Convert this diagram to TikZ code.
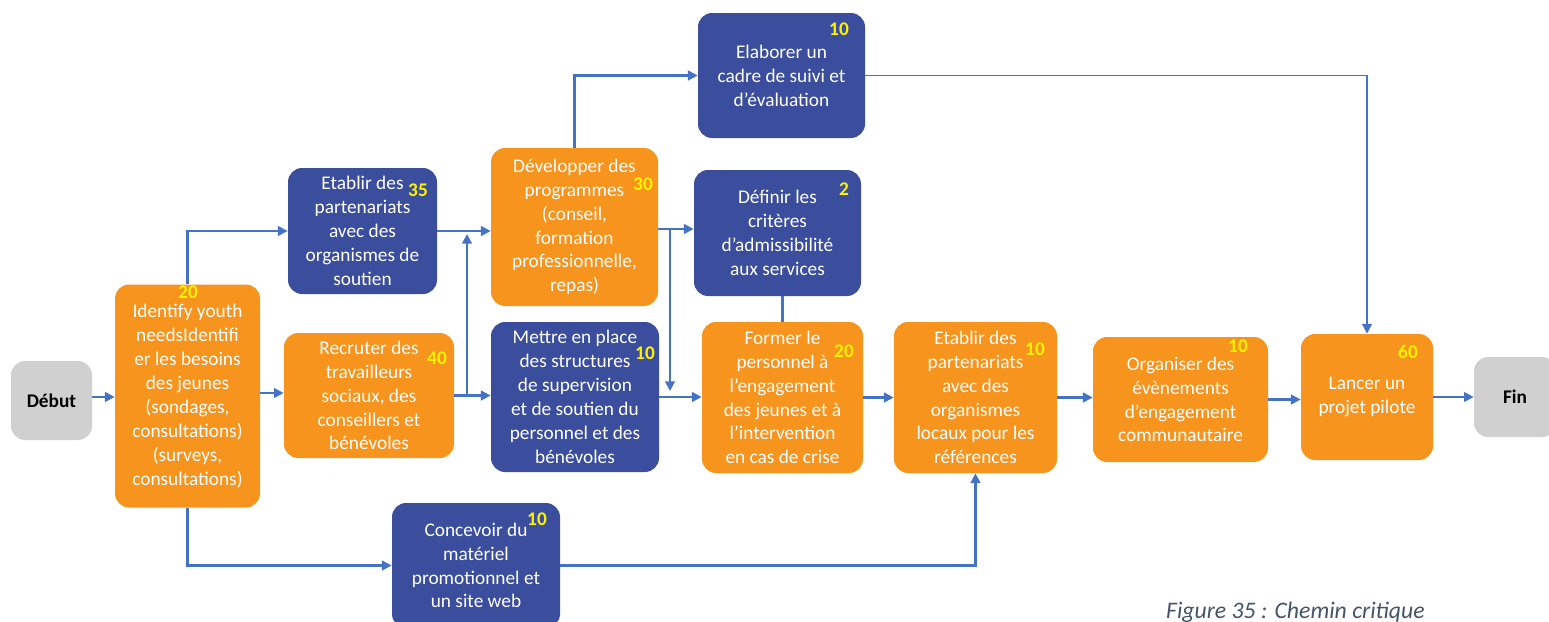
\documentclass[tikz,border=0pt]{standalone}
\usepackage{fontspec}
\setmainfont{Carlito}
\usepackage{tikz}
\usetikzlibrary{positioning,calc}
\usetikzlibrary{arrows.meta}
\definecolor{TaskOrange}{RGB}{247,148,30}
\definecolor{TaskBlue}{RGB}{59,77,157}
\definecolor{EndGray}{RGB}{208,208,208}
\definecolor{FlowBlue}{RGB}{68,114,196}
\definecolor{CapGray}{RGB}{68,84,106}
\tikzset{
	task/.style={rounded corners=8pt,inner sep=0pt,align=center,text=white,
		font=\fontsize{11}{13.6}\selectfont},
	crit/.style={task,fill=TaskOrange},
	side/.style={task,fill=TaskBlue},
	term/.style={task,fill=EndGray,text=black,font=\fontsize{11}{13.6}\selectfont\bfseries},
	sz/.style 2 args={minimum width=#1*0.02cm,minimum height=#2*0.02cm},
	dur/.style={inner sep=0pt,text=yellow,font=\fontsize{11}{13}\selectfont\bfseries},
	flow/.style={draw=FlowBlue,line width=1.2pt,-{Triangle[length=5.5pt,width=5.5pt]}},
}
\begin{document}
\begin{tikzpicture}[x=0.02cm,y=-0.02cm]
	\useasboundingbox (0,0) rectangle (1549,622);
	\node[term,sz={81}{79}] (debut) at (51.5,400.5) {Début};
	\node[crit,sz={145}{223}] (ident) at (187.5,396) {Identify youth\\needsIdentifi\\er les besoins\\des jeunes\\(sondages,\\consultations)\\(surveys,\\consultations)};
	\node[side,sz={149}{126}] (partsout) at (362.5,231) {Etablir des\\partenariats\\avec des\\organismes de\\soutien};
	\node[crit,sz={170}{125}] (recrut) at (369,395.5) {Recruter des\\travailleurs\\sociaux, des\\conseillers et\\bénévoles};
	\node[crit,sz={167}{158}] (devprog) at (574.5,227) {Développer des\\programmes\\(conseil,\\formation\\professionnelle,\\repas)};
	\node[side,sz={167}{125}] (cadre) at (781.5,75.5) {Elaborer un\\cadre de suivi et\\d’évaluation};
	\node[side,sz={167}{126}] (criteres) at (777.5,233) {Définir les\\critères\\d’admissibilité\\aux services};
	\node[side,sz={168}{150}] (supervis) at (575,397) {Mettre en place\\des structures\\de supervision\\et de soutien du\\personnel et des\\bénévoles};
	\node[crit,sz={161}{151}] (former) at (782.5,397.5) {Former le\\personnel à\\l’engagement\\des jeunes et à\\l’intervention\\en cas de crise};
	\node[crit,sz={163}{151}] (partloc) at (975.5,397.5) {Etablir des\\partenariats\\avec des\\organismes\\locaux pour les\\références};
	\node[crit,sz={175}{125}] (evenem) at (1180.5,399.5) {Organiser des\\évènements\\d’engagement\\communautaire};
	\node[crit,sz={132}{126}] (pilote) at (1367,397) {Lancer un\\projet pilote};
	\node[term,sz={82}{80}] (fin) at (1515,397) {Fin};
	\node[side,sz={168}{125}] (concev) at (476,565.5) {Concevoir du\\matériel\\promotionnel et\\un site web};
	\foreach \n/\p/\t in {ident/{188,292}/20,partsout/{418,190}/35,recrut/{437,358}/40,
		devprog/{643,184}/30,cadre/{839,29}/10,criteres/{844,189}/2,supervis/{645,353}/10,
		former/{844,351}/20,partloc/{1035,349}/10,evenem/{1238,346}/10,pilote/{1408,352}/60,
		concev/{537,519}/10}
	\node[dur] (n-\n) at (\p) {\t};
	\node[inner sep=0pt,text=CapGray,font=\fontsize{13.5}{15}\selectfont\itshape,anchor=east] (caption) at (1425,612) {Figure 35 : Chemin critique};
	\coordinate (j1) at (467,234);
	\coordinate (j2) at (670,391);
	\draw[flow] (debut.east |- 0,397) -- (ident.west |- 0,397);
	\draw[flow] (ident.east |- 0,393) -- (recrut.west |- 0,393);
	\draw[flow] (ident.north) |- (partsout.west);
	\draw[flow] (ident.south) |- (concev.west);
	\draw[flow] (partsout.east) -- (devprog.west |- partsout.east);
	\draw[flow] (recrut.east) -- (supervis.west |- recrut.east);
	\draw[flow] (recrut.east) -| (j1);
	\draw[flow] (devprog.north) |- (cadre.west);
	\draw[flow] (devprog.east |- 0,229) -- (criteres.west |- 0,229);
	\draw[flow] (j2 |- 0,229) -- (j2);
	\draw[FlowBlue,line width=1.2pt] (criteres.south -| former.north) -- (former.north);
	\foreach \a/\b in {supervis/former,former/partloc,partloc/evenem,evenem/pilote,pilote/fin}
	\draw[flow] (\a.east) -- (\b.west |- \a.east);
	\draw[flow] (concev.east) -| (partloc.south);
	\draw[flow,line width=1pt] (cadre.east) -| (pilote.north);
\end{tikzpicture}
\end{document}
